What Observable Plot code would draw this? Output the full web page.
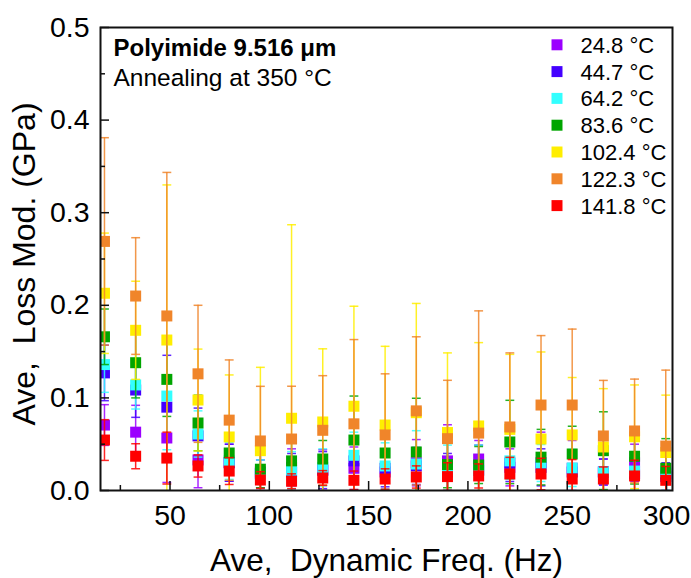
<!DOCTYPE html>
<html>
<head>
<meta charset="utf-8">
<script src="https://cdn.jsdelivr.net/npm/d3@7"></script>
<script src="https://cdn.jsdelivr.net/npm/@observablehq/plot@0.6"></script>
<style>
  body { margin: 0; background: #fff; }
  #chart svg { display: block; }
</style>
</head>
<body>
<div id="chart"></div>
<script>
// Average dynamic frequency of each sweep step (Hz)
const freq = [17, 32.7, 48.4, 64.1, 79.8, 95.5, 111.2, 126.9, 142.6, 158.3,
              174, 189.7, 205.4, 221.1, 236.8, 252.5, 268.2, 283.9, 299.6];

// Measurement temperatures and their colours
const temps  = ["24.8 °C", "44.7 °C", "64.2 °C", "83.6 °C", "102.4 °C", "122.3 °C", "141.8 °C"];
const colors = ["#9b00ff", "#4400ff", "#33ffff", "#00a500", "#ffee00", "#f0852a", "#ff0000"];

// Average loss modulus (GPa) and its standard deviation, one pair per temperature
const loss248 = [0.0707, 0.063, 0.0567, 0.033, 0.030, 0.020, 0.025, 0.022, 0.024, 0.020,
                 0.030, 0.032, 0.034, 0.025, 0.030, 0.024, 0.020, 0.030, 0.018];
const err248  = [0.022, 0.029, 0.048, 0.030, 0.020, 0.020, 0.020, 0.022, 0.023, 0.020,
                 0.025, 0.039, 0.020, 0.020, 0.033, 0.030, 0.014, 0.020, 0.020];

const loss447 = [0.127, 0.1085, 0.090, 0.059, 0.030, 0.018, 0.020, 0.022, 0.032, 0.024,
                 0.0265, 0.020, 0.022, 0.0297, 0.025, 0.020, 0.020, 0.018, 0.015];
const err447  = [0.030, 0.0295, 0.056, 0.030, 0.020, 0.015, 0.020, 0.020, 0.020, 0.020,
                 0.020, 0.020, 0.027, 0.020, 0.020, 0.020, 0.014, 0.020, 0.015];

const loss642 = [0.136, 0.114, 0.102, 0.061, 0.032, 0.018, 0.022, 0.025, 0.038, 0.0265,
                 0.0286, 0.022, 0.022, 0.032, 0.0297, 0.0243, 0.020, 0.021, 0.020];
const err642  = [0.030, 0.026, 0.058, 0.025, 0.020, 0.015, 0.020, 0.020, 0.025, 0.025,
                 0.036, 0.027, 0.027, 0.020, 0.020, 0.020, 0.020, 0.020, 0.020];

const loss836 = [0.166, 0.138, 0.120, 0.0729, 0.0405, 0.023, 0.032, 0.034, 0.0545, 0.0405,
                 0.0416, 0.028, 0.0275, 0.0524, 0.036, 0.0394, 0.043, 0.037, 0.024];
const err836  = [0.030, 0.038, 0.040, 0.030, 0.020, 0.020, 0.020, 0.020, 0.0475, 0.030,
                 0.058, 0.025, 0.020, 0.045, 0.030, 0.030, 0.042, 0.030, 0.032];

const loss1024 = [0.213, 0.173, 0.1625, 0.0977, 0.0578, 0.043, 0.078, 0.074, 0.091, 0.0707,
                  0.084, 0.0626, 0.0697, 0.066, 0.0556, 0.060, 0.047, 0.058, 0.041];
const err1024  = [0.065, 0.053, 0.1675, 0.055, 0.067, 0.090, 0.209, 0.079, 0.108, 0.085,
                  0.118, 0.086, 0.090, 0.081, 0.094, 0.062, 0.063, 0.056, 0.062];

const loss1223 = [0.269, 0.210, 0.1885, 0.126, 0.076, 0.0535, 0.0556, 0.065, 0.072, 0.060,
                  0.086, 0.056, 0.062, 0.0686, 0.0923, 0.0923, 0.0589, 0.0643, 0.048];
const err1223  = [0.112, 0.063, 0.155, 0.074, 0.065, 0.059, 0.057, 0.059, 0.091, 0.066,
                  0.080, 0.063, 0.132, 0.080, 0.075, 0.082, 0.060, 0.056, 0.082];

const loss1418 = [0.0545, 0.037, 0.035, 0.0265, 0.021, 0.0113, 0.010, 0.0135, 0.011, 0.0124,
                  0.0146, 0.015, 0.0157, 0.0178, 0.0178, 0.0124, 0.0124, 0.0157, 0.011];
const err1418  = [0.022, 0.0135, 0.028, 0.012, 0.0145, 0.009, 0.008, 0.008, 0.010, 0.011,
                  0.012, 0.015, 0.013, 0.018, 0.017, 0.021, 0.013, 0.017, 0.015];

// Axis ticks
const xMajor = [50, 100, 150, 200, 250, 300];
const xMinor = [25, 75, 125, 175, 225, 275];
const yMajor = [0, 0.1, 0.2, 0.3, 0.4, 0.5];
const yMinor = [0.05, 0.15, 0.25, 0.35, 0.45];

const titleText = "Polyimide 9.516 μm";
const subtitleText = "Annealing at 350 °C";
const xLabel = "Ave,  Dynamic Freq. (Hz)";
const yLabel = "Ave,  Loss Mod. (GPa)";

const seriesLoss = [loss248, loss447, loss642, loss836, loss1024, loss1223, loss1418];
const seriesErr  = [err248, err447, err642, err836, err1024, err1223, err1418];

const series = temps.map((t, i) => ({
  temp: t,
  color: colors[i],
  points: freq.map((f, j) => ({freq: f, value: seriesLoss[i][j], err: seriesErr[i][j]}))
}));

// Horizontal cap drawn at each error-bar end
const capSymbol = {
  draw(context, size) {
    const w = Math.sqrt(size) / 2;
    context.moveTo(-w, 0);
    context.lineTo(w, 0);
  }
};

const W = 691, H = 578;
const mTop = 27, mRight = 19, mBottom = 88, mLeft = 100;
const frameH = H - mTop - mBottom;
const frameW = W - mLeft - mRight;
const font = "'Liberation Sans', Arial, Helvetica, sans-serif";

const marks = [];

// Error bars and symbols, one temperature after another
for (const s of series) {
  marks.push(Plot.ruleX(s.points, {
    x: "freq", y1: d => d.value - d.err, y2: d => d.value + d.err,
    stroke: s.color, strokeWidth: 1.5, strokeOpacity: 0.85, clip: true
  }));
  const caps = s.points.flatMap(d => [{freq: d.freq, y: d.value + d.err}, {freq: d.freq, y: d.value - d.err}]);
  marks.push(Plot.dot(caps, {
    x: "freq", y: "y", symbol: capSymbol, r: 5, fill: "none",
    stroke: s.color, strokeWidth: 1.5, strokeOpacity: 0.85, clip: true
  }));
  marks.push(Plot.dot(s.points, {
    x: "freq", y: "value", symbol: "square", r: 6.2, fill: s.color, clip: true
  }));
}

// Inward ticks
marks.push(Plot.ruleX(xMajor, {x: d => d, insetTop: frameH - 9, stroke: "#111", strokeWidth: 1.5}));
marks.push(Plot.ruleX(xMinor, {x: d => d, insetTop: frameH - 5, stroke: "#111", strokeWidth: 1.5}));
marks.push(Plot.ruleY(yMajor, {y: d => d, insetRight: frameW - 9, stroke: "#111", strokeWidth: 1.5}));
marks.push(Plot.ruleY(yMinor, {y: d => d, insetRight: frameW - 5, stroke: "#111", strokeWidth: 1.5}));

marks.push(Plot.frame({stroke: "#111", strokeWidth: 2}));

// Tick labels
marks.push(Plot.axisX({ticks: xMajor, tickSize: 0, tickPadding: 14, tickFormat: d => String(d),
  fontSize: 28.5, fill: "#000", label: null}));
marks.push(Plot.axisY({ticks: yMajor, tickSize: 0, tickPadding: 11, tickFormat: d3.format(".1f"),
  fontSize: 28.5, fill: "#000", label: null}));

// Axis titles
marks.push(Plot.text([xLabel], {frameAnchor: "bottom", text: d => d, dy: 70,
  lineAnchor: "middle", textAnchor: "middle", fontSize: 31.5, fill: "#000"}));
marks.push(Plot.text([yLabel], {frameAnchor: "left", text: d => d, rotate: -90, dx: -76, dy: 5,
  lineAnchor: "middle", textAnchor: "middle", fontSize: 32, fill: "#000"}));

// Sample annotation
marks.push(Plot.text([titleText], {frameAnchor: "top-left", text: d => d, dx: 13, dy: 11,
  lineAnchor: "top", textAnchor: "start", fontSize: 24, fontWeight: "bold", fill: "#000"}));
marks.push(Plot.text([subtitleText], {frameAnchor: "top-left", text: d => d, dx: 13, dy: 41,
  lineAnchor: "top", textAnchor: "start", fontSize: 24.5, fill: "#000"}));

// Legend inside the frame
series.forEach((s, i) => {
  marks.push(Plot.dot([s], {frameAnchor: "top-left", dx: 456.5, dy: 17.3 + 26.8 * i,
    symbol: "square", r: 6.2, fill: s.color}));
  marks.push(Plot.text([s], {frameAnchor: "top-left", text: d => d.temp, dx: 480, dy: 18.3 + 26.8 * i,
    lineAnchor: "middle", textAnchor: "start", fontSize: 22, fill: "#000"}));
});

const chart = Plot.plot({
  width: W,
  height: H,
  marginTop: mTop,
  marginRight: mRight,
  marginBottom: mBottom,
  marginLeft: mLeft,
  style: {fontFamily: font, background: "#fff", color: "#000"},
  x: {type: "linear", domain: [15, 303], label: null},
  y: {type: "linear", domain: [0, 0.5], label: null},
  marks
});

document.getElementById("chart").appendChild(chart);
</script>
</body>
</html>
